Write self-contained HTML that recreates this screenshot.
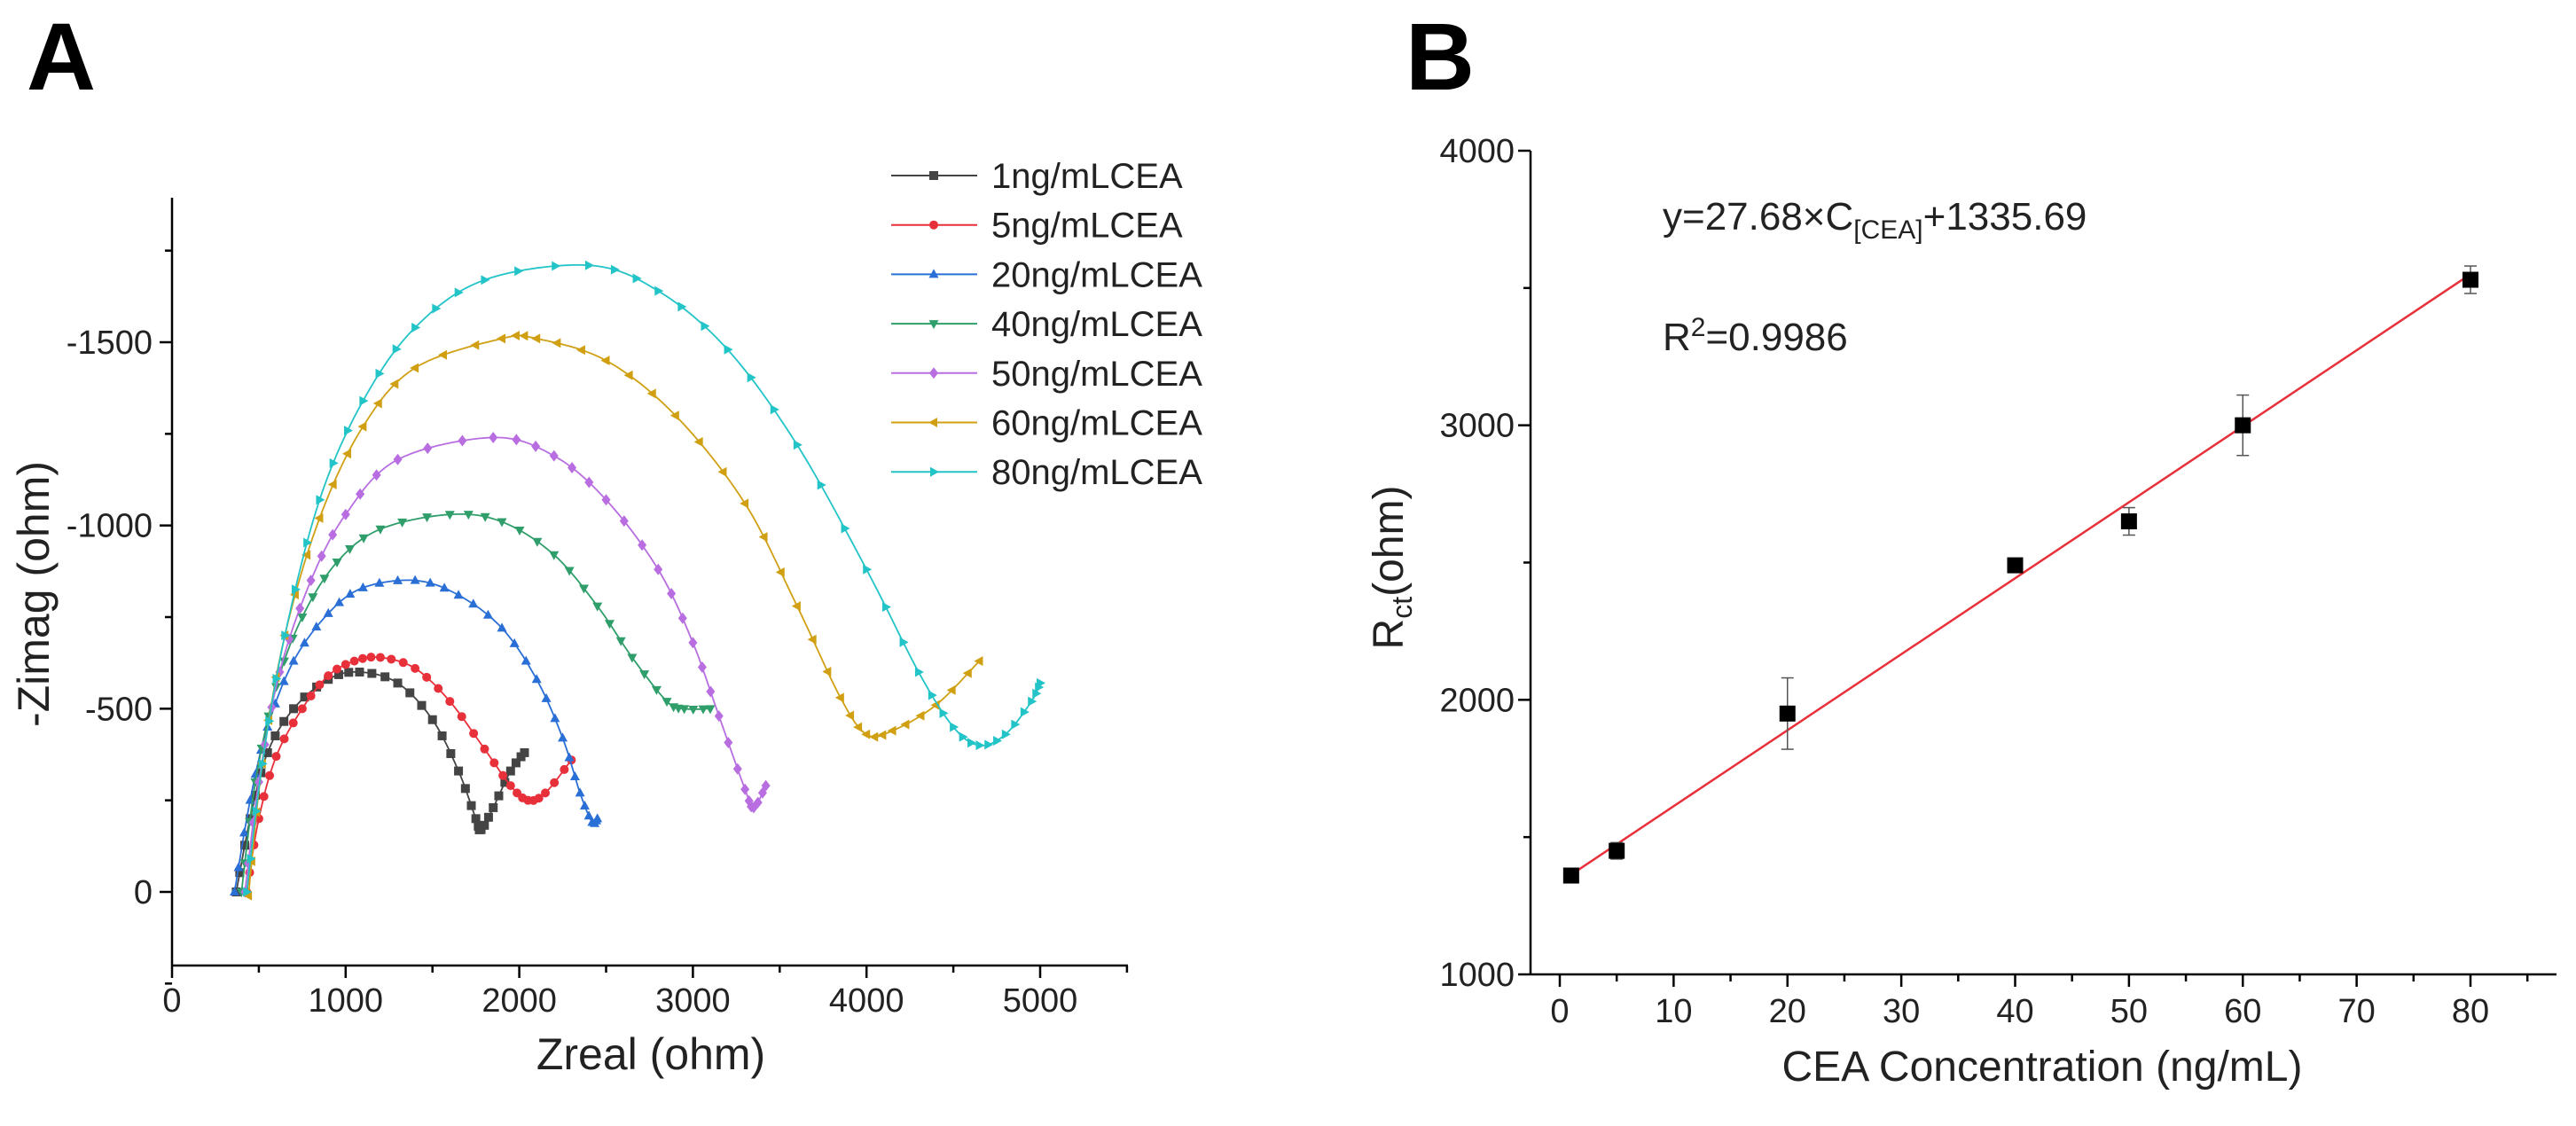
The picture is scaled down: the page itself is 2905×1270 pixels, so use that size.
<!DOCTYPE html>
<html><head><meta charset="utf-8"><style>
html,body{margin:0;padding:0;background:#fff;}
svg{display:block;font-family:"Liberation Sans",Arial,sans-serif;}
</style></head><body>
<svg id="fig" width="2905" height="1270" viewBox="0 0 2905 1270" xmlns="http://www.w3.org/2000/svg">
<text x="30" y="101" font-size="108" font-weight="bold">A</text>
<text x="1585" y="101" font-size="108" font-weight="bold">B</text>
<g id="pa"></g>
<g id="pb"></g>
</svg>
<script>
// ---------- Panel A data ----------
const seriesNames = ["1ng/mLCEA","5ng/mLCEA","20ng/mLCEA","40ng/mLCEA","50ng/mLCEA","60ng/mLCEA","80ng/mLCEA"];
const seriesColors = ["#444444","#e8303a","#2a6fd6","#2f9e6a","#b86ee0","#d0a012","#22c4c8"];
const seriesMarkers = ["square","circle","up","down","diamond","left","right"];
const s1x=[370,450,550,700,900,1080,1300,1500,1650,1750,1780,1850,1950,2030];
const s1y=[0,200,380,500,580,600,570,470,330,200,170,230,330,380];
const s2x=[430,500,600,750,900,1050,1200,1400,1600,1800,1950,2050,2150,2300];
const s2y=[0,200,370,500,590,630,640,610,520,390,290,250,270,360];
const s3x=[360,450,550,700,900,1100,1400,1650,1900,2100,2250,2350,2420,2450];
const s3y=[0,250,450,630,760,830,850,810,720,580,420,270,190,200];
const s4x=[400,480,600,750,950,1200,1600,1900,2200,2450,2650,2850,2950,3100];
const s4y=[0,300,560,750,900,990,1030,1010,920,780,640,520,500,500];
const s5x=[420,500,620,800,1000,1300,1850,2200,2500,2800,3000,3150,3300,3350,3420];
const s5y=[0,300,600,850,1030,1180,1240,1190,1070,880,680,480,280,230,290];
const s6x=[440,520,650,850,1100,1400,1900,2100,2500,2900,3300,3600,3850,4000,4150,4400,4650];
const s6y=[-10,350,700,1020,1270,1430,1510,1510,1450,1300,1060,780,530,430,440,510,630];
const s7x=[430,520,650,850,1100,1400,1800,2400,2800,3200,3600,4000,4300,4500,4650,4800,4950,5000];
const s7y=[0,350,700,1070,1340,1540,1670,1710,1640,1480,1220,880,600,450,400,430,520,570];
const seriesX=[s1x,s2x,s3x,s4x,s5x,s6x,s7x];
const seriesY=[s1y,s2y,s3y,s4y,s5y,s6y,s7y];
const aXTicks=[0,1000,2000,3000,4000,5000];
const aYTicks=[0,500,1000,1500];
const aYTickLabels=["0","-500","-1000","-1500"];

// ---------- Panel B data ----------
const conc=[1,5,20,40,50,60,80];
const rct=[1360,1450,1950,2490,2650,3000,3530];
const rctErr=[15,30,130,20,50,110,50];
const fitSlope=27.68, fitIntercept=1335.69;
const bXTicks=[0,10,20,30,40,50,60,70,80];
const bYTicks=[1000,2000,3000,4000];

const NS="http://www.w3.org/2000/svg";
function mk(tag,attrs,parent){const e=document.createElementNS(NS,tag);for(const k in attrs)e.setAttribute(k,attrs[k]);parent.appendChild(e);return e;}

const pa=document.getElementById('pa');
const aL=194,aR=1272,aT=223,aB=1089;
const ax=v=>aL+(v-0)/1000*195.8;
const ay=v=>1006-v*0.41333;
let e;
e=mk('line',{x1:aL,y1:aT,x2:aL,y2:aB,stroke:'#000','stroke-width':2.5},pa);

e=mk('line',{x1:aL,y1:aB,x2:aR,y2:aB,stroke:'#000','stroke-width':2.5},pa);

for(let v=0;v<=5500;v+=500){const maj=v%1000===0;
 e=mk('line',{x1:ax(v),y1:aB,x2:ax(v),y2:aB+(maj?14:8),stroke:'#000','stroke-width':2.5},pa);
 }
aXTicks.forEach(v=>{e=mk('text',{x:ax(v),y:aB+52,'font-size':38,'text-anchor':'middle',fill:'#222'},pa);e.textContent=String(v);
 });
for(let v=-250;v<=1750;v+=250){const maj=v%500===0;
 e=mk('line',{x1:aL,y1:ay(v),x2:aL-(maj?14:8),y2:ay(v),stroke:'#000','stroke-width':2.5},pa);
 }
aYTicks.forEach((v,i)=>{e=mk('text',{x:aL-22,y:ay(v)+13,'font-size':38,'text-anchor':'end',fill:'#222'},pa);e.textContent=aYTickLabels[i];
 });
e=mk('text',{x:734,y:1206,'font-size':50,'text-anchor':'middle',fill:'#222'},pa);e.textContent='Zreal (ohm)';

e=mk('text',{x:55,y:670,'font-size':50,'text-anchor':'middle',fill:'#222',transform:'rotate(-90 55 670)'},pa);e.textContent='-Zimag (ohm)';


function marker(type,x,y,c,parent,r){
 r=r||5;let p;
 if(type==='square')p=mk('rect',{x:x-r,y:y-r,width:2*r,height:2*r,fill:c},parent);
 else if(type==='circle')p=mk('circle',{cx:x,cy:y,r:r,fill:c},parent);
 else{let pts;
  if(type==='up')pts=[[0,-r*1.2],[r*1.1,r*0.8],[-r*1.1,r*0.8]];
  else if(type==='down')pts=[[0,r*1.2],[r*1.1,-r*0.8],[-r*1.1,-r*0.8]];
  else if(type==='diamond')pts=[[0,-r*1.3],[r,0],[0,r*1.3],[-r,0]];
  else if(type==='left')pts=[[-r*1.2,0],[r*0.8,-r*1.1],[r*0.8,r*1.1]];
  else pts=[[r*1.2,0],[-r*0.8,-r*1.1],[-r*0.8,r*1.1]];
  p=mk('polygon',{points:pts.map(q=>(x+q[0])+','+(y+q[1])).join(' '),fill:c},parent);}
 return p;}

// Catmull-Rom sampling between pixel points
function crPoint(P,i,t){
 const p0=P[Math.max(i-1,0)],p1=P[i],p2=P[i+1],p3=P[Math.min(i+2,P.length-1)];
 const t2=t*t,t3=t2*t;
 const f=(a,b,c,d)=>0.5*((2*b)+(-a+c)*t+(2*a-5*b+4*c-d)*t2+(-a+3*b-3*c+d)*t3);
 return [f(p0[0],p1[0],p2[0],p3[0]),f(p0[1],p1[1],p2[1],p3[1])];
}

seriesNames.forEach((nm,i)=>{
 const g=mk('g',{},pa);
 
 
 const X=seriesX[i],Y=seriesY[i];
 const P=X.map((x,j)=>[ax(x),ay(Y[j])]);
 const line=[];
 for(let j=0;j<P.length-1;j++){for(let k=0;k<12;k++)line.push(crPoint(P,j,k/12));}
 line.push(P[P.length-1]);
 mk('polyline',{points:line.map(p=>p[0].toFixed(1)+','+p[1].toFixed(1)).join(' '),fill:'none',stroke:seriesColors[i],'stroke-width':1.8},g);
 for(let j=0;j<P.length-1;j++){
  for(let k=0;k<3;k++){const q=crPoint(P,j,k/3);marker(seriesMarkers[i],q[0],q[1],seriesColors[i],g,5);}
 }
 marker(seriesMarkers[i],P[P.length-1][0],P[P.length-1][1],seriesColors[i],g,5);
 const ly=198+i*55.7;
 const lg=mk('g',{},pa);
 
 
 mk('line',{x1:1005,y1:ly,x2:1102,y2:ly,stroke:seriesColors[i],'stroke-width':2},lg);
 marker(seriesMarkers[i],1053,ly,seriesColors[i],lg,5);
 const t=mk('text',{x:1118,y:ly+14,'font-size':40,fill:'#222'},lg);t.textContent=nm;
});

// Panel B
const pb=document.getElementById('pb');
const bL=1726,bR=2883,bT=170,bB=1099;
const bx=v=>1759+v*12.8375;
const by=v=>1099-(v-1000)*0.30967;
e=mk('line',{x1:bL,y1:bT,x2:bL,y2:bB,stroke:'#000','stroke-width':2.5},pb);

e=mk('line',{x1:bL,y1:bB,x2:bR,y2:bB,stroke:'#000','stroke-width':2.5},pb);

for(let v=0;v<=85;v+=5){const maj=v%10===0;
 e=mk('line',{x1:bx(v),y1:bB,x2:bx(v),y2:bB+(maj?14:8),stroke:'#000','stroke-width':2.5},pb);
 }
bXTicks.forEach(v=>{e=mk('text',{x:bx(v),y:bB+54,'font-size':38,'text-anchor':'middle',fill:'#222'},pb);e.textContent=String(v);
 });
for(let v=1000;v<=4000;v+=500){const maj=v%1000===0;
 e=mk('line',{x1:bL,y1:by(v),x2:bL-(maj?14:8),y2:by(v),stroke:'#000','stroke-width':2.5},pb);
 }
bYTicks.forEach(v=>{e=mk('text',{x:bL-18,y:by(v)+13,'font-size':38,'text-anchor':'end',fill:'#222'},pb);e.textContent=String(v);
 });
e=mk('text',{x:2303,y:1219,'font-size':48,'text-anchor':'middle',fill:'#222'},pb);e.textContent='CEA Concentration (ng/mL)';

e=mk('text',{x:1582,y:640,'font-size':48,'text-anchor':'middle',fill:'#222',transform:'rotate(-90 1582 640)'},pb);
e.innerHTML='R<tspan font-size="32" dy="10">ct</tspan><tspan dy="-10">(ohm)</tspan>';

e=mk('line',{x1:bx(1),y1:by(fitSlope*1+fitIntercept),x2:bx(80),y2:by(fitSlope*80+fitIntercept),stroke:'#e8303a','stroke-width':2.5},pb);

conc.forEach((c,i)=>{
 const g=mk('g',{},pb);
 
 
 const x=bx(c),y=by(rct[i]),y1=by(rct[i]+rctErr[i]),y2=by(rct[i]-rctErr[i]);
 mk('line',{x1:x,y1:y1,x2:x,y2:y2,stroke:'#555','stroke-width':1.5},g);
 mk('line',{x1:x-7,y1:y1,x2:x+7,y2:y1,stroke:'#555','stroke-width':1.5},g);
 mk('line',{x1:x-7,y1:y2,x2:x+7,y2:y2,stroke:'#555','stroke-width':1.5},g);
 mk('rect',{x:x-9,y:y-9,width:18,height:18,fill:'#000'},g);
});
e=mk('text',{x:1875,y:259,'font-size':44,fill:'#222'},pb);
e.innerHTML='y=27.68×C<tspan font-size="30" dy="10">[CEA]</tspan><tspan dy="-10">+1335.69</tspan>';

e=mk('text',{x:1875,y:395,'font-size':44,fill:'#222'},pb);
e.innerHTML='R<tspan font-size="30" dy="-16">2</tspan><tspan dy="16">=0.9986</tspan>';

</script>
</body></html>
